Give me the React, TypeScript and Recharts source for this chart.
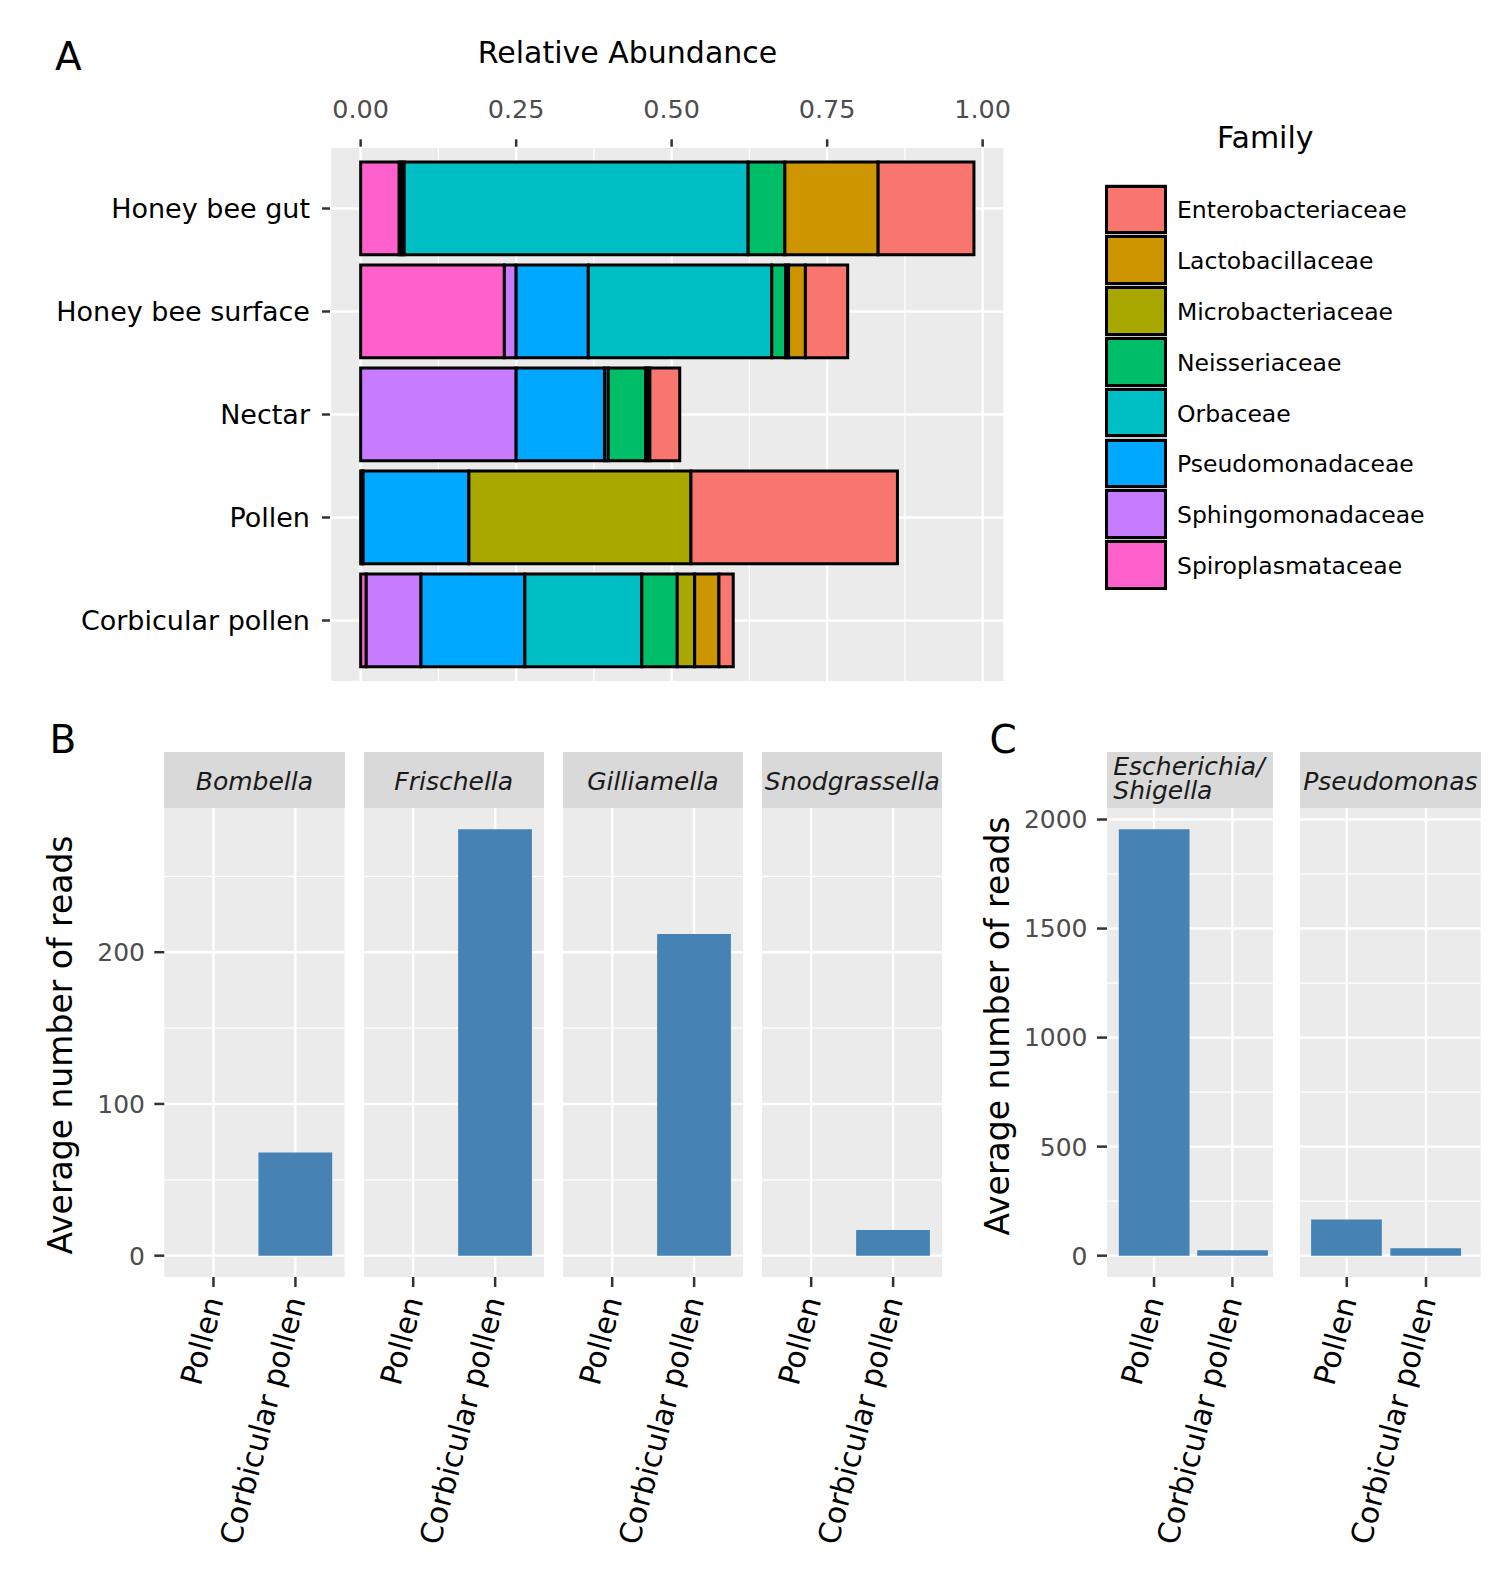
import React from 'react';
import { BarChart, Bar, XAxis, YAxis, CartesianGrid } from 'recharts';

// ---------- panel A : relative abundance per sample type ----------
const sampleTypes = ['Honey bee gut', 'Honey bee surface', 'Nectar', 'Pollen', 'Corbicular pollen'];
const families = [
  'Enterobacteriaceae',
  'Lactobacillaceae',
  'Microbacteriaceae',
  'Neisseriaceae',
  'Orbaceae',
  'Pseudomonadaceae',
  'Sphingomonadaceae',
  'Spiroplasmataceae',
];
const familyColors = ['#F8766D', '#CD9600', '#A9A800', '#00BE67', '#00BFC4', '#00A9FF', '#C77CFF', '#FF61CC'];

// values follow the order of sampleTypes
const enterobacteriaceae = [0.154, 0.068, 0.048, 0.332, 0.023];
const lactobacillaceae = [0.15, 0.027, 0.004, 0, 0.039];
const microbacteriaceae = [0, 0.005, 0.003, 0.357, 0.028];
const neisseriaceae = [0.059, 0.022, 0.06, 0, 0.057];
const orbaceae = [0.553, 0.295, 0.006, 0, 0.188];
const pseudomonadaceae = [0.004, 0.116, 0.142, 0.17, 0.167];
const sphingomonadaceae = [0.004, 0.019, 0.25, 0.002, 0.088];
const spiroplasmataceae = [0.062, 0.231, 0, 0.002, 0.009];

const abundanceTicks = [0, 0.25, 0.5, 0.75, 1];
const abundanceMinor = [0.125, 0.375, 0.625, 0.875];

// ---------- panels B and C : average number of reads ----------
const readCategories = ['Pollen', 'Corbicular pollen'];
const bombella = [0, 68];
const frischella = [0, 281];
const gilliamella = [0, 212];
const snodgrassella = [0, 17];
const readTicksB = [0, 100, 200];
const readMinorB = [50, 150, 250];

const escherichiaShigella = [1955, 25];
const pseudomonas = [166, 34];
const readTicksC = [0, 500, 1000, 1500, 2000];
const readMinorC = [250, 750, 1250, 1750];

// ---------- derived tables ----------
const familyValues = [
  enterobacteriaceae,
  lactobacillaceae,
  microbacteriaceae,
  neisseriaceae,
  orbaceae,
  pseudomonadaceae,
  sphingomonadaceae,
  spiroplasmataceae,
];

const abundanceRows = sampleTypes.map((sample, i) => {
  const row: Record<string, any> = { idx: i, sample };
  families.forEach((f, j) => {
    row[f] = familyValues[j][i];
  });
  return row;
});

// ggplot style 5% expansion
const expand = (max: number): [number, number] => [-0.05 * max, 1.05 * max];
const abundanceMax = Math.max(...abundanceRows.map((r) => families.reduce((s, f) => s + r[f], 0)));
const aDomain = expand(abundanceMax);
const bDomain = expand(Math.max(...bombella, ...frischella, ...gilliamella, ...snodgrassella));
const cDomain = expand(Math.max(...escherichiaShigella, ...pseudomonas));

// stacking starts with the last family (Spiroplasmataceae at the left)
const stackOrder = families.map((_, j) => families.length - 1 - j);

// ---------- layout ----------
const A_LEFT = 330;
const A_TOP = 146.7;
const A_RIGHT = 30;
const A_PX = 622; // px per unit of relative abundance
const A_UNIT = 103; // px per sample row
const aPlotW = (aDomain[1] - aDomain[0]) * A_PX;
const aPlotH = (sampleTypes.length + 0.2) * A_UNIT;

const STRIP_TOP = 752.3;
const STRIP_H = 56;
const PANEL_TOP = 808.3;
const PANEL_H = 469;
const HEAD = 20; // room above the panel for the top tick label
const FACET_H = 1586 - PANEL_TOP;

const FONT = "'DejaVu Sans', 'Liberation Sans', sans-serif";
const tickLineStyle = { stroke: '#333333', strokeWidth: 2.5 };

const RotatedTick = (props: any) => {
  const { x, y, payload } = props;
  return (
    <text
      x={x}
      y={y}
      textAnchor="end"
      dominantBaseline="central"
      fontSize={30}
      fill="#000000"
      transform={`rotate(-75 ${x} ${y})`}
    >
      {readCategories[payload.value]}
    </text>
  );
};

interface FacetProps {
  name: string;
  values: number[];
  left: number;
  width: number;
  domain: [number, number];
  ticks: number[];
  minor: number[];
  xDomain: [number, number];
  barSize: number;
  yAxisWidth?: number;
  tickGap?: number;
}

const Facet = ({ name, values, left, width, domain, ticks, minor, xDomain, barSize, yAxisWidth = 0, tickGap = 9.3 }: FacetProps) => {
  const rows = readCategories.map((category, idx) => ({ idx, category, reads: values[idx] }));
  const lines = name.split('\n');
  const multi = lines.length > 1;
  return (
    <>
      <div
        style={{
          position: 'absolute',
          left,
          top: STRIP_TOP,
          width,
          height: STRIP_H,
          background: '#D9D9D9',
          color: '#1A1A1A',
          fontStyle: 'italic',
          fontSize: 25,
          boxSizing: 'border-box',
          whiteSpace: 'nowrap',
          ...(multi
            ? { paddingTop: 3, paddingLeft: 6, lineHeight: '24px', textAlign: 'left' as const }
            : { paddingTop: 2, lineHeight: `${STRIP_H}px`, textAlign: 'center' as const }),
        }}
      >
        {lines.map((l) => (
          <div key={l}>{l}</div>
        ))}
      </div>
      <div style={{ position: 'absolute', left: left - yAxisWidth, top: PANEL_TOP - HEAD }}>
        <BarChart
          width={width + yAxisWidth}
          height={FACET_H + HEAD}
          data={rows}
          margin={{ top: HEAD, right: 0, bottom: 0, left: 0 }}
          barSize={barSize}
        >
          <CartesianGrid fill="#EBEBEB" stroke="#FFFFFF" strokeWidth={2.4} horizontalValues={ticks} verticalValues={[0, 1]} />
          <CartesianGrid vertical={false} stroke="#FFFFFF" strokeWidth={1.2} horizontalValues={minor} />
          <XAxis
            type="number"
            dataKey="idx"
            domain={xDomain}
            ticks={[0, 1]}
            allowDataOverflow
            interval={0}
            height={FACET_H - PANEL_H}
            axisLine={false}
            tickSize={10}
            tickMargin={10.7}
            tickLine={tickLineStyle}
            tick={(p: any) => <RotatedTick {...p} />}
          />
          <YAxis
            type="number"
            domain={domain}
            ticks={ticks}
            allowDataOverflow
            interval={0}
            hide={yAxisWidth === 0}
            width={yAxisWidth || 60}
            axisLine={false}
            tickSize={10}
            tickMargin={tickGap}
            tickLine={tickLineStyle}
            tick={{ fontSize: 25, fill: '#4D4D4D' }}
          />
          <Bar dataKey="reads" fill="#4682B4" isAnimationActive={false} />
        </BarChart>
      </div>
    </>
  );
};

const B_W = 180.3;
const bBar = (0.9 * B_W) / 2.2;
const bFacets = [
  { name: 'Bombella', values: bombella, left: 164.3 },
  { name: 'Frischella', values: frischella, left: 363.6 },
  { name: 'Gilliamella', values: gilliamella, left: 562.8 },
  { name: 'Snodgrassella', values: snodgrassella, left: 762.2 },
];

const panelLetter = (text: string, left: number, top: number) => (
  <div style={{ position: 'absolute', left, top, fontSize: 39, lineHeight: '39px' }}>{text}</div>
);

const yTitle = (cx: number, cy: number) => (
  <div
    style={{
      position: 'absolute',
      left: cx - 300,
      top: cy - 20,
      width: 600,
      height: 40,
      lineHeight: '40px',
      textAlign: 'center',
      fontSize: 33,
      transform: 'rotate(-90deg)',
    }}
  >
    Average number of reads
  </div>
);

export default function App() {
  return (
    <div
      style={{
        position: 'absolute',
        left: 0,
        top: 0,
        width: 1500,
        height: 1586,
        background: '#FFFFFF',
        fontFamily: FONT,
        color: '#000000',
        overflow: 'hidden',
      }}
    >
      {/* ---- A ---- */}
      {panelLetter('A', 55, 37)}
      <div style={{ position: 'absolute', left: 327.5, top: 37.9, width: 600, textAlign: 'center', fontSize: 30, lineHeight: '30px' }}>
        Relative Abundance
      </div>
      <div style={{ position: 'absolute', left: 0, top: 0 }}>
        <BarChart
          layout="vertical"
          width={A_LEFT + aPlotW + A_RIGHT}
          height={A_TOP + aPlotH}
          data={abundanceRows}
          margin={{ top: 0, right: A_RIGHT, bottom: 0, left: 0 }}
          barSize={0.9 * A_UNIT}
        >
          <CartesianGrid fill="#EBEBEB" stroke="#FFFFFF" strokeWidth={2.4} />
          <CartesianGrid horizontal={false} stroke="#FFFFFF" strokeWidth={1.2} verticalValues={abundanceMinor} />
          <XAxis
            type="number"
            orientation="top"
            domain={aDomain}
            ticks={abundanceTicks}
            allowDataOverflow
            interval={0}
            height={A_TOP}
            tickFormatter={(v: number) => v.toFixed(2)}
            axisLine={false}
            tickSize={7.4}
            tickMargin={21}
            tickLine={tickLineStyle}
            tick={{ fontSize: 25.5, fill: '#4D4D4D' }}
          />
          <YAxis
            type="number"
            dataKey="idx"
            domain={[-0.6, sampleTypes.length - 0.4]}
            ticks={sampleTypes.map((_, i) => i)}
            allowDataOverflow
            interval={0}
            width={A_LEFT}
            tickFormatter={(i: number) => sampleTypes[i]}
            axisLine={false}
            tickSize={8}
            tickMargin={12}
            tickLine={tickLineStyle}
            tick={{ fontSize: 27, fill: '#000000' }}
          />
          {stackOrder.map((j) => (
            <Bar
              key={families[j]}
              dataKey={families[j]}
              stackId="family"
              fill={familyColors[j]}
              stroke="#000000"
              strokeWidth={3}
              isAnimationActive={false}
            />
          ))}
        </BarChart>
      </div>

      {/* legend */}
      <div style={{ position: 'absolute', left: 1217, top: 122.9, fontSize: 30, lineHeight: '30px' }}>Family</div>
      <div style={{ position: 'absolute', left: 1105, top: 184, width: 61.7, height: families.length * 50.8, background: '#C8C8C8' }} />
      {families.map((f, i) => (
        <React.Fragment key={f}>
          <div
            style={{
              position: 'absolute',
              left: 1105,
              top: 184 + i * 50.8 + 0.6,
              width: 61.7,
              height: 49.6,
              boxSizing: 'border-box',
              border: '3px solid #000000',
              background: familyColors[i],
            }}
          />
          <div
            style={{
              position: 'absolute',
              left: 1177,
              top: 184 + i * 50.8,
              height: 50.8,
              display: 'flex',
              alignItems: 'center',
              paddingTop: 2,
              boxSizing: 'border-box',
              fontSize: 23.5,
              whiteSpace: 'nowrap',
            }}
          >
            {f}
          </div>
        </React.Fragment>
      ))}

      {/* ---- B ---- */}
      {panelLetter('B', 49.4, 720.4)}
      {yTitle(60.6, 1045)}
      {bFacets.map((f, i) => (
        <Facet
          key={f.name}
          name={f.name}
          values={f.values}
          left={f.left}
          width={B_W}
          domain={bDomain}
          ticks={readTicksB}
          minor={readMinorB}
          xDomain={[-0.6, 1.6]}
          barSize={bBar}
          yAxisWidth={i === 0 ? 84.3 : 0}
          tickGap={9.3}
        />
      ))}

      {/* ---- C ---- */}
      {panelLetter('C', 989.5, 720.4)}
      {yTitle(998, 1026)}
      <Facet
        name={'Escherichia/\nShigella'}
        values={escherichiaShigella}
        left={1107.3}
        width={166}
        domain={cDomain}
        ticks={readTicksC}
        minor={readMinorC}
        xDomain={[-0.6, 1.518]}
        barSize={70.7}
        yAxisWidth={100}
        tickGap={9.5}
      />
      <Facet
        name="Pseudomonas"
        values={pseudomonas}
        left={1300}
        width={180.7}
        domain={cDomain}
        ticks={readTicksC}
        minor={readMinorC}
        xDomain={[-0.59, 1.69]}
        barSize={70.7}
      />
    </div>
  );
}
